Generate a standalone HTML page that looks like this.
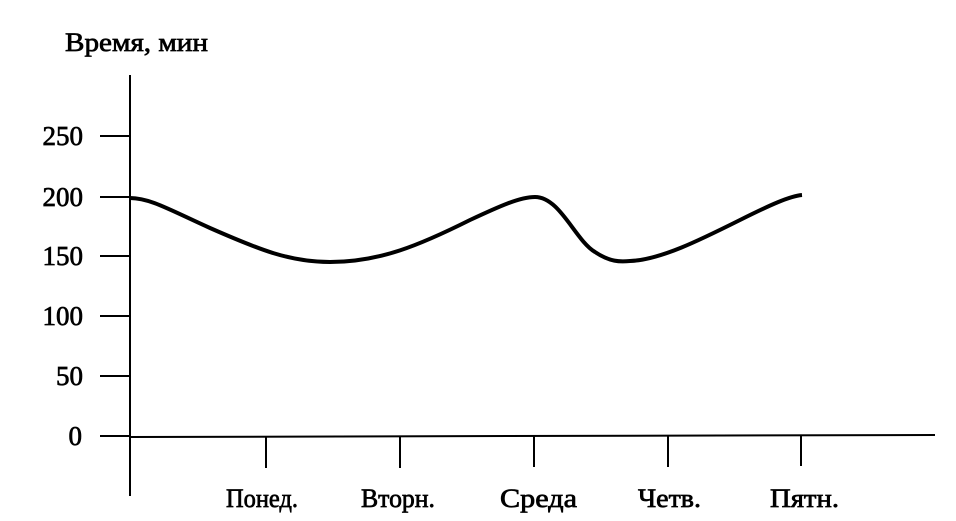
<!DOCTYPE html>
<html><head><meta charset="utf-8"><style>
html,body{margin:0;padding:0;background:#fff;}
svg{display:block;}
text{font-family:"Liberation Serif",serif;fill:#000;font-size:26px;stroke:#000;stroke-width:0.7;}
.n{font-size:27px;text-anchor:end;}
</style></head><body>
<svg width="956" height="521" viewBox="0 0 956 521" xmlns="http://www.w3.org/2000/svg">
<text x="65" y="51" textLength="143" lengthAdjust="spacingAndGlyphs">Время, мин</text>
<g stroke="#000" stroke-width="2" fill="none">
<line x1="130" y1="75" x2="130" y2="496"/>
<line x1="130" y1="437" x2="935" y2="435"/>
<line x1="100" y1="136" x2="130" y2="136"/>
<line x1="100" y1="197" x2="130" y2="197"/>
<line x1="100" y1="256" x2="130" y2="256"/>
<line x1="100" y1="316" x2="130" y2="316"/>
<line x1="100" y1="376" x2="130" y2="376"/>
<line x1="100" y1="436" x2="130" y2="436"/>
<line x1="266" y1="437" x2="266" y2="468"/>
<line x1="400" y1="437" x2="400" y2="468"/>
<line x1="534" y1="436" x2="534" y2="467"/>
<line x1="668" y1="436" x2="668" y2="467"/>
<line x1="801" y1="435" x2="801" y2="466"/>
</g>
<path d="M130,198 C150,198 170,210 210,228 C260,250 290,262 330,262 C380,262 420,245 470,220 C500,206 520,197 535,197 C560,197 575,240 595,252 C610,262 620,262 630,261 C660,260 700,240 740,220 C770,205 790,196 802,195" stroke="#000" stroke-width="4" fill="none"/>
<text class="n" x="83" y="145">250</text>
<text class="n" x="83" y="206">200</text>
<text class="n" x="83" y="265">150</text>
<text class="n" x="83" y="325">100</text>
<text class="n" x="83" y="385">50</text>
<text class="n" x="82" y="445">0</text>
<text x="226" y="507" textLength="72" lengthAdjust="spacingAndGlyphs">Понед.</text>
<text x="361" y="507" textLength="74" lengthAdjust="spacingAndGlyphs">Вторн.</text>
<text x="500" y="507" textLength="77" lengthAdjust="spacingAndGlyphs">Среда</text>
<text x="638" y="507" textLength="63" lengthAdjust="spacingAndGlyphs">Четв.</text>
<text x="770" y="507" textLength="69" lengthAdjust="spacingAndGlyphs">Пятн.</text>
</svg>
</body></html>
